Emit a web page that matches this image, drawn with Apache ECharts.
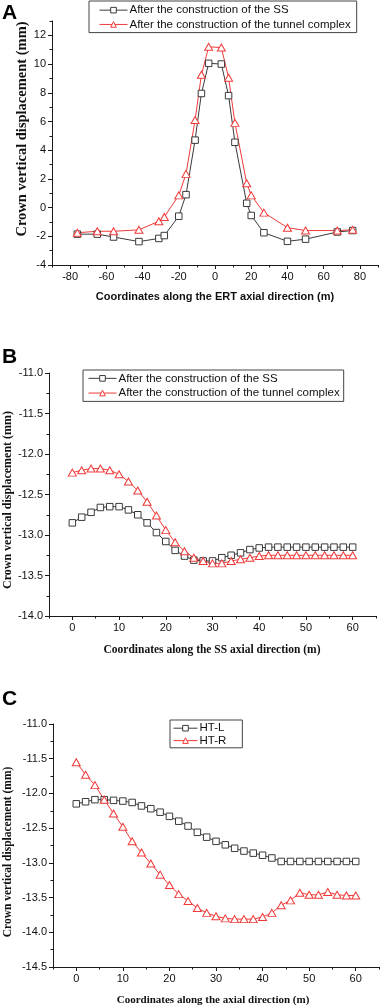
<!DOCTYPE html>
<html>
<head>
<meta charset="utf-8">
<script src="https://cdn.jsdelivr.net/npm/echarts@6/dist/echarts.min.js"></script>
<style>
  html, body { margin: 0; padding: 0; background: #fff; }
  #chart { width: 381px; height: 1007px; }
</style>
</head>
<body>
<div id="chart"></div>
<script>
// ---- panel A : along the ERT axis
const xA = [-76, -65, -56, -42, -31, -28, -20, -16, -11, -7.5, -3.5, 3.5, 7.5, 11, 17.5, 20, 27, 40, 50, 67.5, 76];
const ssA = [-1.85, -1.85, -2.05, -2.37, -2.15, -1.95, -0.6, 0.9, 4.7, 7.95, 10.05, 10.0, 7.8, 4.55, 0.3, -0.55, -1.75, -2.35, -2.2, -1.7, -1.6];
const tunnelA = [-1.75, -1.65, -1.65, -1.55, -0.95, -0.65, 0.85, 2.35, 6.1, 9.25, 11.2, 11.15, 9.05, 5.9, 1.7, 0.85, -0.35, -1.4, -1.6, -1.6, -1.55];

// ---- panel B : along the SS axis
const xB = [0, 2, 4, 6, 8, 10, 12, 14, 16, 18, 20, 22, 24, 26, 28, 30, 32, 34, 36, 38, 40, 42, 44, 46, 48, 50, 52, 54, 56, 58, 60];
const ssB = [-12.85, -12.78, -12.72, -12.66, -12.65, -12.65, -12.69, -12.75, -12.85, -12.97, -13.08, -13.19, -13.26, -13.31, -13.32, -13.32,
  -13.28, -13.25, -13.22, -13.18, -13.16, -13.15, -13.15, -13.15, -13.15, -13.15, -13.15, -13.15, -13.15, -13.15, -13.15];
const tunnelB = [-12.23, -12.20, -12.18, -12.18, -12.20, -12.25, -12.34, -12.45, -12.59, -12.76, -12.94, -13.09, -13.20, -13.28, -13.32, -13.35,
  -13.35, -13.32, -13.30, -13.28, -13.26, -13.25, -13.25, -13.25, -13.25, -13.25, -13.25, -13.25, -13.25, -13.25, -13.25];

// ---- panel C : HT left / right
const xC = [0, 2, 4, 6, 8, 10, 12, 14, 16, 18, 20, 22, 24, 26, 28, 30, 32, 34, 36, 38, 40, 42, 44, 46, 48, 50, 52, 54, 56, 58, 60];
const htL = [-12.15, -12.12, -12.09, -12.09, -12.10, -12.11, -12.13, -12.18, -12.22, -12.27, -12.33, -12.40, -12.47, -12.56, -12.63, -12.69,
  -12.74, -12.79, -12.83, -12.86, -12.89, -12.93, -12.98, -12.98, -12.98, -12.98, -12.98, -12.98, -12.98, -12.98, -12.98];
const htR = [-11.55, -11.73, -11.88, -12.09, -12.29, -12.48, -12.69, -12.85, -13.01, -13.17, -13.32, -13.45, -13.55, -13.65, -13.72, -13.77,
  -13.80, -13.81, -13.81, -13.81, -13.78, -13.72, -13.61, -13.54, -13.43, -13.46, -13.46, -13.42, -13.46, -13.47, -13.47];

// ---- tick values
const xTicksA = [-80, -60, -40, -20, 0, 20, 40, 60, 80];
const xMinorA = [-90, -70, -50, -30, -10, 10, 30, 50, 70, 90];
const yTicksA = [-4, -2, 0, 2, 4, 6, 8, 10, 12];
const yMinorA = [-3, -1, 1, 3, 5, 7, 9, 11, 13];
const xTicksBC = [0, 10, 20, 30, 40, 50, 60];
const xMinorBC = [-5, 5, 15, 25, 35, 45, 55, 65];
const yTicksB = [-14.0, -13.5, -13.0, -12.5, -12.0, -11.5, -11.0];
const yMinorB = [-13.75, -13.25, -12.75, -12.25, -11.75, -11.25];
const yTicksC = [-14.5, -14.0, -13.5, -13.0, -12.5, -12.0, -11.5, -11.0];
const yMinorC = [-14.25, -13.75, -13.25, -12.75, -12.25, -11.75, -11.25];

const nameSS = 'After the construction of the SS';
const nameTunnel = 'After the construction of the tunnel complex';

const GRAY = '#3a3a3a';
const RED = '#f03a3a';
const AXIS = '#1a1a1a';
const SANS = '"Liberation Sans", Arial, sans-serif';
const SERIF = '"Liberation Serif", "Times New Roman", serif';

const chart = echarts.init(document.getElementById('chart'), null, { renderer: 'canvas' });

function zip(xs, ys) {
  return xs.map((x, i) => [x, ys[i]]);
}

// main axis (line, major ticks, labels) + a bare one carrying the minor ticks
function axisPair(kind, grid, min, max, majors, minors, labelFmt) {
  const pos = kind === 'x' ? 'bottom' : 'left';
  const main = {
    type: 'value', gridIndex: grid, min: min, max: max, position: pos,
    axisLine: { show: true, onZero: false, lineStyle: { color: AXIS, width: 1 } },
    axisTick: { show: true, length: 4, customValues: majors, lineStyle: { color: AXIS, width: 1 } },
    axisLabel: {
      customValues: majors, margin: 6, fontFamily: SANS, fontSize: 11, color: '#111',
      formatter: labelFmt
    },
    splitLine: { show: false }
  };
  const minor = {
    type: 'value', gridIndex: grid, min: min, max: max, position: pos,
    axisLine: { show: false, onZero: false },
    axisTick: { show: true, length: 2.5, customValues: minors, lineStyle: { color: AXIS, width: 1 } },
    axisLabel: { show: false },
    splitLine: { show: false }
  };
  return [main, minor];
}

const fmt1 = v => v.toFixed(1);
const fmt0 = v => String(v);

const xAxes = [].concat(
  axisPair('x', 0, -90, 90, xTicksA, xMinorA, fmt0),
  axisPair('x', 1, -5, 65, xTicksBC, xMinorBC, fmt0),
  axisPair('x', 2, -5, 65, xTicksBC, xMinorBC, fmt0)
);
const yAxes = [].concat(
  axisPair('y', 0, -4, 13, yTicksA, yMinorA, fmt0),
  axisPair('y', 1, -14, -11, yTicksB, yMinorB, fmt1),
  axisPair('y', 2, -14.5, -11, yTicksC, yMinorC, fmt1)
);

function squareSeries(name, axisIdx, data) {
  return {
    name: name, type: 'line', xAxisIndex: axisIdx, yAxisIndex: axisIdx, data: data,
    symbol: 'rect', symbolSize: 6.5, showAllSymbol: true, animation: false,
    lineStyle: { color: GRAY, width: 1 },
    itemStyle: { color: '#fff', borderColor: GRAY, borderWidth: 1 }
  };
}
function triangleSeries(name, axisIdx, data) {
  return {
    name: name, type: 'line', xAxisIndex: axisIdx, yAxisIndex: axisIdx, data: data,
    symbol: 'triangle', symbolSize: [8, 7], showAllSymbol: true, animation: false,
    lineStyle: { color: RED, width: 1 },
    itemStyle: { color: '#fff', borderColor: RED, borderWidth: 1 }
  };
}

function legendBox(names, left, top, padding, lineH, itemW) {
  return {
    data: names, left: left, top: top, orient: 'vertical',
    padding: padding, itemGap: 0, itemWidth: itemW, itemHeight: 7,
    borderColor: '#444', borderWidth: 1, selectedMode: false,
    lineStyle: { width: 1 },
    itemStyle: { color: '#fff', borderWidth: 1 },
    textStyle: { fontFamily: SANS, fontSize: 11.5, color: '#111', lineHeight: lineH, padding: [0, 0, 0, -3] }
  };
}

function vTitle(text, x, y, size) {
  return {
    type: 'text', x: x, y: y, rotation: Math.PI / 2,
    style: { text: text, font: 'bold ' + size + 'px ' + SERIF, fill: '#111', textAlign: 'center', textVerticalAlign: 'middle' }
  };
}
function hTitle(text, x, y, font) {
  return {
    type: 'text', x: x, y: y,
    style: { text: text, font: font, fill: '#111', textAlign: 'center', textVerticalAlign: 'middle' }
  };
}
function panelTag(text, y) {
  return {
    type: 'text', left: 2, top: y,
    style: { text: text, font: 'bold 21px ' + SANS, fill: '#000' }
  };
}

chart.setOption({
  backgroundColor: '#fff',
  animation: false,
  grid: [
    { left: 52, top: 21, width: 326, height: 244 },
    { left: 49, top: 373, width: 327, height: 243 },
    { left: 53, top: 724, width: 326, height: 243 }
  ],
  xAxis: xAxes,
  yAxis: yAxes,
  legend: [
    legendBox([nameSS, nameTunnel], 89, 1, [2, 6, 1, 10], 14.3, 28),
    legendBox([nameSS, nameTunnel], 83, 370, [1, 4, 1, 5], 14.7, 28),
    legendBox(['HT-L', 'HT-R'], 170, 720, [2, 16, 1, 3], 12.4, 24)
  ],
  series: [
    squareSeries(nameSS, 0, zip(xA, ssA)),
    triangleSeries(nameTunnel, 0, zip(xA, tunnelA)),
    squareSeries(nameSS, 2, zip(xB, ssB)),
    triangleSeries(nameTunnel, 2, zip(xB, tunnelB)),
    squareSeries('HT-L', 4, zip(xC, htL)),
    triangleSeries('HT-R', 4, zip(xC, htR))
  ],
  graphic: [
    panelTag('A', 3),
    panelTag('B', 347),
    panelTag('C', 689),
    vTitle('Crown vertical displacement (mm)', 22, 129, 14.5),
    vTitle('Crown vertical displacement (mm)', 8, 500, 12),
    vTitle('Crown vertical displacement (mm)', 8.5, 852, 11.5),
    hTitle('Coordinates along the ERT axial direction (m)', 215, 297, 'bold 11px ' + SANS),
    hTitle('Coordinates along the SS axial direction (m)', 212, 650, 'bold 11.5px ' + SERIF),
    hTitle('Coordinates along the axial direction (m)', 213, 1000, 'bold 11px ' + SERIF)
  ]
});
</script>
</body>
</html>
